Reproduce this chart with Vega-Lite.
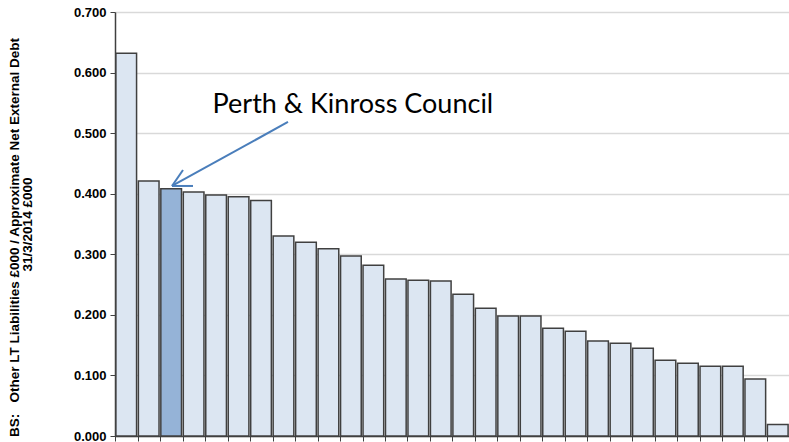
{
  "$schema": "https://vega.github.io/schema/vega-lite/v6.json",
  "autosize": {"type": "none"},
  "width": 674,
  "height": 424,
  "padding": {"left": 115, "top": 12, "right": 0, "bottom": 6},
  "background": "white",
  "config": {"view": {"stroke": null}},
  "datasets": {
    "bars": [
      {"rank": 1, "value": 0.632, "highlight": "no"},
      {"rank": 2, "value": 0.421, "highlight": "no"},
      {"rank": 3, "value": 0.408, "highlight": "yes"},
      {"rank": 4, "value": 0.403, "highlight": "no"},
      {"rank": 5, "value": 0.398, "highlight": "no"},
      {"rank": 6, "value": 0.395, "highlight": "no"},
      {"rank": 7, "value": 0.389, "highlight": "no"},
      {"rank": 8, "value": 0.330, "highlight": "no"},
      {"rank": 9, "value": 0.320, "highlight": "no"},
      {"rank": 10, "value": 0.309, "highlight": "no"},
      {"rank": 11, "value": 0.297, "highlight": "no"},
      {"rank": 12, "value": 0.282, "highlight": "no"},
      {"rank": 13, "value": 0.259, "highlight": "no"},
      {"rank": 14, "value": 0.257, "highlight": "no"},
      {"rank": 15, "value": 0.256, "highlight": "no"},
      {"rank": 16, "value": 0.234, "highlight": "no"},
      {"rank": 17, "value": 0.211, "highlight": "no"},
      {"rank": 18, "value": 0.198, "highlight": "no"},
      {"rank": 19, "value": 0.198, "highlight": "no"},
      {"rank": 20, "value": 0.178, "highlight": "no"},
      {"rank": 21, "value": 0.173, "highlight": "no"},
      {"rank": 22, "value": 0.157, "highlight": "no"},
      {"rank": 23, "value": 0.153, "highlight": "no"},
      {"rank": 24, "value": 0.145, "highlight": "no"},
      {"rank": 25, "value": 0.125, "highlight": "no"},
      {"rank": 26, "value": 0.120, "highlight": "no"},
      {"rank": 27, "value": 0.115, "highlight": "no"},
      {"rank": 28, "value": 0.115, "highlight": "no"},
      {"rank": 29, "value": 0.094, "highlight": "no"},
      {"rank": 30, "value": 0.019, "highlight": "no"}
    ],
    "arrow": [
      {"seg": "shaft", "x": 7.70, "y": 0.5184, "x2": 2.537, "y2": 0.4128},
      {"seg": "barb1", "x": 3.027, "y": 0.4392, "x2": 2.537, "y2": 0.4128},
      {"seg": "barb2", "x": 3.472, "y": 0.4128, "x2": 2.537, "y2": 0.4128}
    ],
    "label": [
      {"x": 10.59, "y": 0.533, "text": "Perth & Kinross Council"}
    ]
  },
  "layer": [
    {
      "data": {"name": "bars"},
      "mark": {"type": "bar", "stroke": "#404040", "strokeWidth": 1.5},
      "encoding": {
        "x": {
          "field": "rank", "type": "ordinal",
          "scale": {"paddingInner": 0.08, "paddingOuter": 0.04},
          "axis": {
            "labels": false, "title": null, "bandPosition": 0,
            "domainColor": "#404040", "domainWidth": 1.5,
            "tickColor": "#404040", "tickSize": 5, "tickWidth": 1, "grid": false
          }
        },
        "y": {
          "field": "value", "type": "quantitative",
          "scale": {"domain": [0, 0.7], "nice": false},
          "axis": {
            "values": [0, 0.1, 0.2, 0.3, 0.4, 0.5, 0.6, 0.7],
            "format": ".3f",
            "labelFont": "Liberation Sans", "labelFontWeight": "bold", "labelFontSize": 13,
            "labelColor": "#000000", "labelPadding": 4,
            "domainColor": "#404040", "domainWidth": 1.5,
            "tickColor": "#404040", "tickSize": 5,
            "gridColor": "#d9d9d9", "gridWidth": 1.5,
            "title": "31/3/2014 £000",
            "titleFont": "Liberation Sans", "titleFontWeight": "bold", "titleFontSize": 13.5,
            "titleColor": "#000000", "titlePadding": 39
          }
        },
        "fill": {
          "field": "highlight", "type": "nominal",
          "scale": {"domain": ["no", "yes"], "range": ["#dce6f2", "#95b3d7"]},
          "legend": null
        }
      }
    },
    {
      "data": {"name": "arrow"},
      "mark": {"type": "rule", "color": "#4a7ebb", "strokeWidth": 2},
      "encoding": {
        "x": {"field": "x", "type": "quantitative", "scale": {"domain": [0, 30], "nice": false}, "axis": null},
        "x2": {"field": "x2"},
        "y": {
          "field": "y", "type": "quantitative",
          "axis": {
            "orient": "left", "domain": false, "ticks": false, "labels": false, "grid": false,
            "title": "BS:\u00a0\u00a0\u00a0Other LT Liabilities £000 / Approximate Net External Debt",
            "titleFont": "Liberation Sans", "titleFontWeight": "bold", "titleFontSize": 13.5,
            "titleColor": "#000000", "titleBaseline": "middle", "titleX": -101, "titleY": 225
          }
        },
        "y2": {"field": "y2"}
      }
    },
    {
      "data": {"name": "label"},
      "mark": {"type": "text", "font": "Lato", "fontSize": 27, "color": "#000000", "baseline": "alphabetic", "align": "center"},
      "encoding": {
        "x": {"field": "x", "type": "quantitative", "scale": {"domain": [0, 30], "nice": false}, "axis": null},
        "y": {"field": "y", "type": "quantitative", "axis": null},
        "text": {"field": "text"}
      }
    }
  ],
  "resolve": {"scale": {"x": "independent"}, "axis": {"y": "independent"}}
}
